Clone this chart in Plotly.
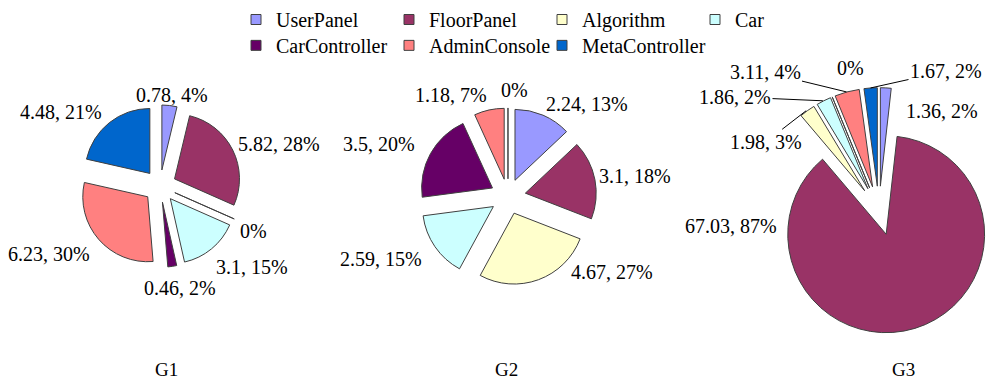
import math
import plotly.graph_objects as go

# ---------------- data ----------------
categories = ["UserPanel", "FloorPanel", "Algorithm", "Car",
              "CarController", "AdminConsole", "MetaController"]
colors = ["#9999FF", "#993366", "#FFFFCC", "#CCFFFF",
          "#660066", "#FF8080", "#0066CC"]
g1_values = [0.78, 5.82, 0, 3.1, 0.46, 6.23, 4.48]
g2_values = [2.24, 3.1, 4.67, 2.59, 3.5, 1.18, 0]
g3_values = [1.36, 67.03, 1.98, 1.86, 0, 3.11, 1.67]
chart_titles = ["G1", "G2", "G3"]

# ---------------- style / layout ----------------
W, H = 1004, 380
FONT = "Liberation Serif"
PULL = 0.25
LINE = "#404040"

domains = [dict(x=[0.0772, 0.2415], y=[0.3013, 0.7355]),
           dict(x=[0.4163, 0.5956], y=[0.2537, 0.7274]),
           dict(x=[0.751, 1.0], y=[0.1237, 0.7816])]
title_pos_px = [(166, 369), (506, 369), (903, 369)]

# label centre offsets from each pie centre (px) and leader-line flags
label_offsets = [
    [(12, -93), (118.7, -42.3), (94, 46), (92, 82), (20, 104), (-110.5, 68.7), (-99, -75.7)],
    [(79.5, -93.6), (127, -20.6), (104, 76.4), (-126.5, 63.1), (-129, -53.6), (-57, -103.6), (7, -108.6)],
    [(62.5, -101.5), (-148, 15.5), (-113, -70.5), (-144, -115.5),
     (-28.5, -145.5), (-114, -140.5), (67, -141.5)],
]
leaders = [[False] * 7, [False] * 7, [False, False, True, True, False, True, True]]
legend_entry_widths = [108, 108, 108, 108, 108, 108, 140]


def label_text(v, total):
    return f"{v}, {round(100 * v / total)}%" if v > 0 else "0%"


fig = go.Figure()
annotations = []

for vals, dom, offs, leads in zip([g1_values, g2_values, g3_values], domains, label_offsets, leaders):
    fig.add_trace(go.Pie(
        labels=categories, values=vals, domain=dom, sort=False,
        direction="clockwise", rotation=0, pull=[PULL] * len(vals),
        marker=dict(colors=colors, line=dict(color=LINE, width=1)),
        textinfo="none", showlegend=False, hoverinfo="label+value+percent",
    ))
    cx = W * (dom["x"][0] + dom["x"][1]) / 2
    cy = H * (1 - (dom["y"][0] + dom["y"][1]) / 2)
    r = min(W * (dom["x"][1] - dom["x"][0]), H * (dom["y"][1] - dom["y"][0])) / 2 / (1 + PULL)
    tot = sum(vals)
    cum = 0.0
    for v, off, lead in zip(vals, offs, leads):
        mid = (cum + v / 2) / tot * 2 * math.pi
        cum += v
        txt = label_text(v, tot)
        tx, ty = cx + off[0], cy + off[1]
        if lead:
            rr = r * (1 + PULL)
            px = cx + rr * math.sin(mid)
            py = cy - rr * math.cos(mid)
            annotations.append(dict(text=txt, x=px / W, y=1 - py / H, xref="paper", yref="paper",
                                    showarrow=True, arrowhead=0, arrowwidth=1, arrowcolor="black",
                                    ax=tx - px, ay=ty - py, standoff=0,
                                    font=dict(family=FONT, size=20, color="black")))
        else:
            annotations.append(dict(text=txt, x=tx / W, y=1 - ty / H, xref="paper", yref="paper",
                                    showarrow=False, xanchor="center", yanchor="middle",
                                    font=dict(family=FONT, size=20, color="black")))

# legend entries: two rows, drawn as two horizontal legends
for i, (name, col) in enumerate(zip(categories, colors)):
    fig.add_trace(go.Scatter(
        x=[None], y=[None], mode="markers", name=name,
        marker=dict(symbol="square", size=10, color=col, line=dict(color=LINE, width=1)),
        legend="legend" if i < 4 else "legend2", legendwidth=legend_entry_widths[i],
        showlegend=True, hoverinfo="skip",
    ))

for t, (px, py) in zip(chart_titles, title_pos_px):
    annotations.append(dict(text=t, x=px / W, y=1 - py / H, xref="paper", yref="paper",
                            showarrow=False, font=dict(family=FONT, size=19, color="black"),
                            xanchor="center", yanchor="middle"))

legend_common = dict(orientation="h", xanchor="left", yanchor="middle",
                     entrywidthmode="pixels", itemwidth=30,
                     bgcolor="rgba(0,0,0,0)", traceorder="normal",
                     font=dict(family=FONT, size=20, color="black"))

fig.update_layout(
    width=W, height=H,
    margin=dict(l=0, r=0, t=0, b=0),
    paper_bgcolor="white", plot_bgcolor="white",
    xaxis=dict(visible=False), yaxis=dict(visible=False),
    legend=dict(x=236 / W, y=1 - 13.3 / H, **legend_common),
    legend2=dict(x=236 / W, y=1 - 40 / H, **legend_common),
    annotations=annotations,
    font=dict(family=FONT),
)

fig.write_html("out.html")
